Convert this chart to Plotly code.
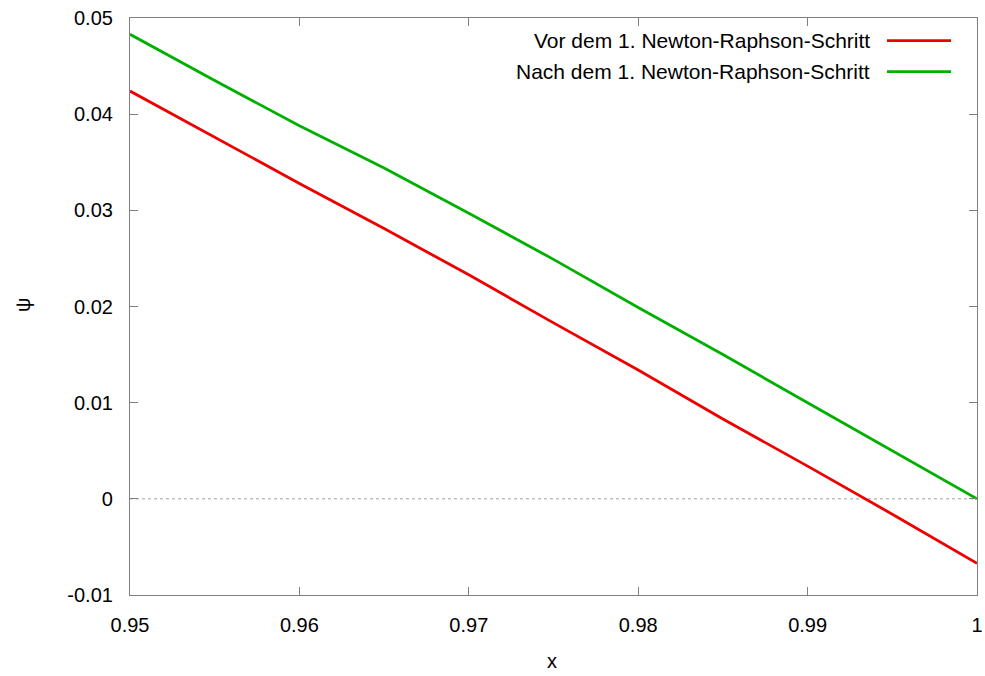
import plotly.graph_objects as go

x_vals = [0.95, 0.955, 0.96, 0.965, 0.97, 0.975, 0.98, 0.985, 0.99, 0.995, 1.0]
psi_vor = [0.0424, 0.0376, 0.0328, 0.0281, 0.0233, 0.0183, 0.0134, 0.0083, 0.0034, -0.0016, -0.0067]
psi_nach = [0.0483, 0.0435, 0.0388, 0.0344, 0.0297, 0.0249, 0.0199, 0.0150, 0.0100, 0.0050, 0.0]
names = ["Vor dem 1. Newton-Raphson-Schritt", "Nach dem 1. Newton-Raphson-Schritt"]
colors = ["#ee0000", "#00b000"]
x_ticks = [0.95, 0.96, 0.97, 0.98, 0.99, 1.0]
x_ticktext = ["0.95", "0.96", "0.97", "0.98", "0.99", "1"]
y_ticks = [-0.01, 0, 0.01, 0.02, 0.03, 0.04, 0.05]
y_ticktext = ["-0.01", "0", "0.01", "0.02", "0.03", "0.04", "0.05"]

FONT = "Liberation Sans, Arial, sans-serif"
fig = go.Figure()
for ys, nm, c in zip([psi_vor, psi_nach], names, colors):
    fig.add_trace(go.Scatter(x=x_vals, y=ys, mode="lines", name=nm,
                             line=dict(color=c, width=2.8), showlegend=False))

# zero line (dotted)
fig.add_shape(type="line", xref="paper", yref="y", x0=0, x1=1, y0=0, y1=0,
              line=dict(color="#a0a0a0", width=1, dash="dot"), layer="below")

# manual legend (text left of sample line, like gnuplot)
leg_y = [0.9607, 0.9069]
for nm, c, yy in zip(names, colors, leg_y):
    fig.add_annotation(xref="paper", yref="paper", x=0.876, y=yy, text=nm,
                       showarrow=False, xanchor="right", yanchor="middle",
                       font=dict(family=FONT, size=21, color="black"))
    fig.add_shape(type="line", xref="paper", yref="paper", x0=0.8937, x1=0.9693,
                  y0=yy, y1=yy, line=dict(color=c, width=2.8))

axis_common = dict(showline=True, linecolor="#808080", linewidth=1.2, mirror="allticks",
                   ticks="inside", ticklen=8, tickcolor="#808080", tickwidth=1,
                   showgrid=False, zeroline=False, automargin=False,
                   tickfont=dict(family=FONT, size=20, color="black"))
fig.update_xaxes(range=[0.95, 1.0], tickvals=x_ticks, ticktext=x_ticktext,
                 ticklabelstandoff=12, **axis_common)
fig.update_yaxes(range=[-0.01, 0.05], tickvals=y_ticks, ticktext=y_ticktext,
                 ticklabelstandoff=12, **axis_common)

fig.add_annotation(xref="paper", yref="paper", x=(552 - 130) / 847, y=(595 - 661) / 577,
                   text="x", showarrow=False, xanchor="center", yanchor="middle",
                   font=dict(family=FONT, size=20, color="black"))
fig.add_annotation(xref="paper", yref="paper", x=(23 - 130) / 847, y=(595 - 305) / 577,
                   text="ψ", showarrow=False, xanchor="center", yanchor="middle", textangle=-90,
                   font=dict(family=FONT, size=20, color="black"))

fig.update_layout(width=985, height=676, margin=dict(l=130, r=8, t=18, b=81, autoexpand=False),
                  plot_bgcolor="white", paper_bgcolor="white")
fig.write_html("out.html")
